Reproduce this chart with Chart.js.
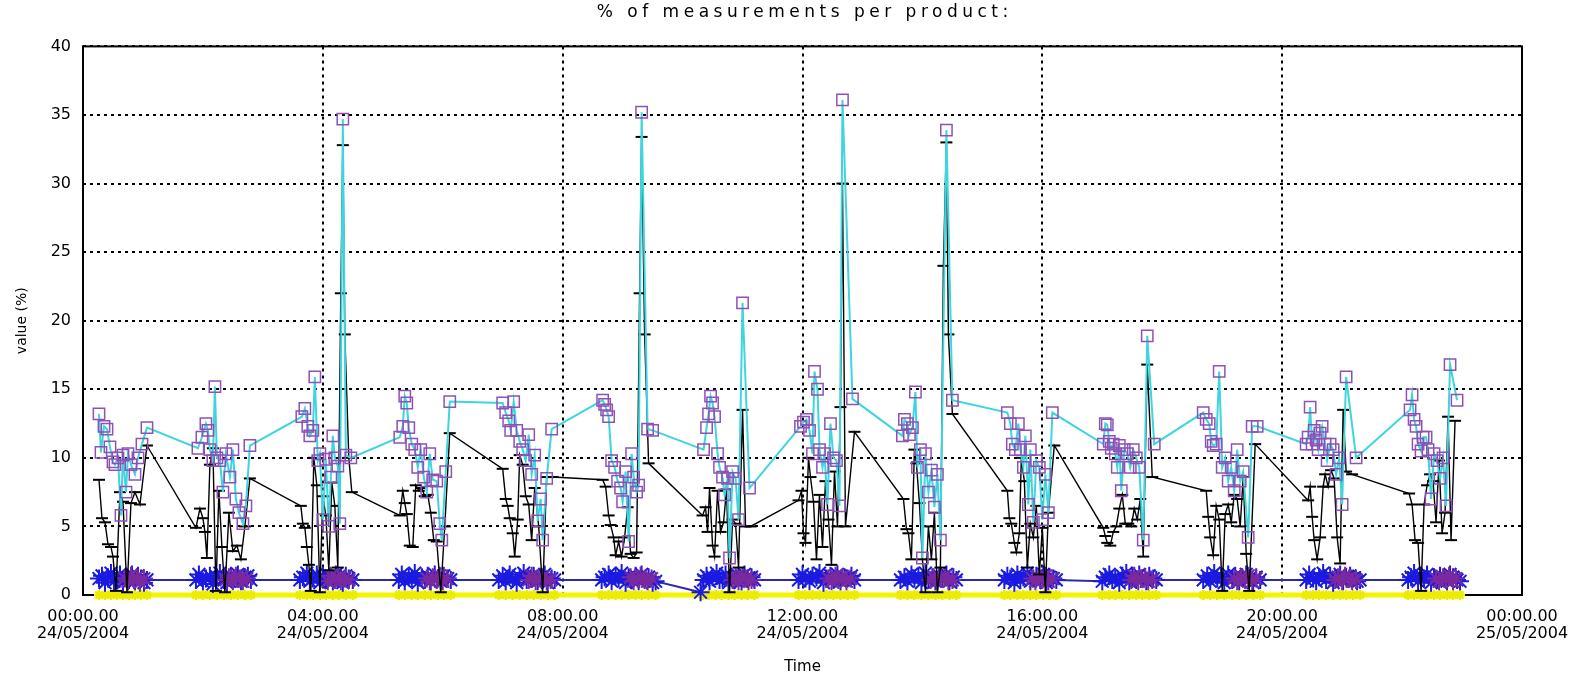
<!DOCTYPE html>
<html><head><meta charset="utf-8">
<script src="https://cdn.jsdelivr.net/npm/chart.js@4/dist/chart.umd.min.js"></script>
<style>html,body{margin:0;padding:0;background:#fff}#wrap{width:1594px;height:676px;position:relative}</style>
</head><body><div id="wrap"><canvas id="c" width="1594" height="676"></canvas></div>
<script>
const TITLE = '% of measurements per product:';
const X_TITLE = 'Time';
const Y_TITLE = 'value (%)';
const xTickValues = [0, 240, 480, 720, 960, 1200, 1440];
const xTickLabels = [['00:00.00','24/05/2004'],['04:00.00','24/05/2004'],['08:00.00','24/05/2004'],['12:00.00','24/05/2004'],['16:00.00','24/05/2004'],['20:00.00','24/05/2004'],['00:00.00','25/05/2004']];
const yTickValues = [0, 5, 10, 15, 20, 25, 30, 35, 40];

// times: minutes after 00:00 24/05/2004
const cyanTime = [
16,18,21,24,27,30,32,35,38,40,43,45,48,52,55,59,64,
115,119,123,125,127,130,132,134,137,140,143,147,150,153,156,160,163,167,
219,222,225,227,230,232,235,237,240,243,246,248,250,252,255,257,260,263,268,
317,320,322,324,326,329,332,335,338,341,344,347,350,354,357,359,363,367,
420,423,426,428,431,434,437,440,443,446,449,452,455,458,460,464,469,
520,522,524,526,529,532,535,538,540,543,546,549,551,554,556,559,565,570,
621,624,626,628,630,632,635,637,640,642,645,647,650,653,656,660,667,
718,721,724,727,730,732,735,737,740,742,745,748,751,754,757,760,770,
820,822,825,827,830,833,835,838,840,843,846,849,852,855,858,864,870,
925,928,930,933,936,938,941,943,946,948,951,954,957,960,963,966,970,
1021,1023,1025,1027,1029,1031,1033,1035,1037,1039,1042,1045,1048,1051,1054,1057,1061,1065,1072,
1121,1124,1127,1129,1131,1134,1137,1140,1143,1146,1149,1152,1155,1158,1161,1166,1170,1175,
1224,1226,1228,1230,1232,1234,1236,1238,1240,1243,1245,1248,1251,1254,1257,1260,1264,1274,
1328,1330,1332,1334,1336,1339,1341,1344,1346,1349,1352,1355,1358,1361,1364,1368,1375];
const cyanValue = [
13.2,10.4,12.3,12.1,10.8,9.7,9.5,10.0,5.8,10.2,7.5,10.3,9.5,8.8,10.0,11.0,12.2,
10.7,11.5,12.5,12.0,10.6,9.8,15.2,10.0,9.8,7.5,10.3,8.6,10.6,7.0,6.0,5.2,6.5,10.9,
13.0,13.6,12.3,11.6,12.0,15.9,9.8,10.3,5.5,9.9,5.0,8.6,11.6,10.0,9.4,5.2,34.7,10.2,10.0,
11.5,12.3,14.5,14.0,12.2,11.0,10.6,9.3,10.6,8.6,7.5,10.3,8.4,8.3,5.2,4.0,9.0,14.1,
14.0,13.3,12.7,12.0,14.1,12.0,11.2,10.6,9.8,11.7,8.8,10.2,5.4,7.0,4.0,8.5,12.1,
14.2,13.9,13.5,13.0,9.8,9.3,8.3,7.8,6.8,9.0,3.9,10.3,8.6,7.5,8.0,35.2,12.1,12.0,
10.6,12.2,13.2,14.5,14.0,13.0,10.3,9.3,8.6,7.3,8.5,2.7,9.0,8.5,5.5,21.3,7.8,
12.3,12.6,12.8,12.0,10.3,16.3,15.0,10.6,9.3,10.3,6.6,12.5,10.0,9.8,6.5,36.1,14.3,
11.6,12.8,12.5,11.7,12.2,14.8,9.3,10.6,2.7,10.3,7.5,9.1,6.4,8.8,4.0,33.9,14.2,
13.3,12.5,11.0,10.6,12.5,10.6,9.3,11.6,6.6,10.6,5.3,9.8,9.3,5.5,8.8,6.0,13.3,
11.0,12.5,12.4,11.2,10.7,11.0,10.3,9.3,10.9,7.6,10.6,10.3,9.3,10.6,10.0,9.3,4.0,18.9,11.0,
13.3,12.8,12.5,11.2,10.9,11.0,16.3,9.3,10.0,8.3,9.3,7.6,10.6,8.3,9.0,4.2,12.3,12.3,
11.0,11.5,13.7,11.0,12.0,11.3,10.6,11.8,12.3,11.0,9.8,11.0,10.6,8.8,10.0,6.6,15.9,10.0,
13.5,14.6,12.8,12.3,11.0,10.5,11.5,11.5,10.6,7.0,10.3,9.8,8.5,10.0,6.5,16.8,14.2];

const blackTime = [
16,19,22,25,28,30,33,37,40,44,48,52,57,64,
113,117,120,122,124,127,130,133,136,139,142,146,150,154,158,162,167,
218,220,222,224,226,228,231,234,237,240,243,246,249,252,255,258,260,262,266,269,
317,320,322,324,327,330,333,336,339,342,345,348,351,354,358,362,367,
420,423,425,427,430,432,435,437,440,443,446,449,452,456,460,464,470,
520,523,526,528,531,533,536,539,542,545,548,551,554,557,559,562,566,
620,623,625,627,630,632,635,638,641,644,647,650,653,656,660,663,668,
716,719,721,723,726,728,731,734,737,740,743,746,749,752,755,758,760,763,772,
821,824,826,829,832,834,837,840,843,846,849,852,855,858,861,864,866,870,
925,927,929,932,934,937,939,942,945,948,951,954,957,960,963,966,972,
1021,1023,1025,1028,1031,1034,1037,1040,1043,1046,1049,1052,1055,1058,1061,1065,1070,
1124,1126,1128,1131,1134,1137,1140,1143,1146,1149,1152,1155,1158,1161,1164,1167,1173,
1226,1228,1230,1232,1235,1238,1241,1243,1246,1249,1252,1255,1258,1261,1264,1270,
1327,1330,1333,1336,1339,1342,1345,1348,1351,1354,1357,1360,1363,1366,1369,1373];
const blackValue = [
8.4,5.6,5.3,3.7,3.5,2.8,0.3,7.5,6.8,0.2,6.7,7.5,6.6,10.9,
4.9,6.3,5.6,4.6,2.7,9.5,10.7,0.3,7.6,3.5,0.2,6.0,3.2,3.6,2.6,5.0,8.5,
6.5,5.2,4.9,3.5,2.2,0.3,10.0,8.0,0.2,7.2,5.8,1.8,8.2,6.5,2.0,22.0,32.8,19.0,10.0,7.5,
5.8,7.6,6.7,5.9,3.6,3.5,8.0,7.6,7.8,7.2,7.3,6.0,4.0,3.9,0.2,5.0,11.8,
9.2,7.0,6.5,5.6,4.5,2.8,5.5,10.2,9.5,7.2,6.6,4.0,7.8,5.0,0.2,8.6,8.6,
8.4,7.9,5.8,5.1,4.2,2.9,3.9,2.8,4.2,6.4,3.0,2.7,3.1,22.0,33.4,19.0,9.6,
5.8,6.4,4.6,7.8,3.6,2.8,7.6,4.6,5.3,7.7,0.2,5.5,5.2,2.0,13.5,5.0,5.0,
6.9,7.6,4.5,3.8,10.0,8.6,6.8,2.6,7.3,3.5,8.3,5.5,2.2,9.0,5.0,13.7,30.0,5.0,11.9,
7.0,4.8,4.5,2.6,10.6,9.6,6.7,2.6,0.2,5.0,2.6,6.0,0.2,2.0,24.0,33.0,19.0,13.2,
7.6,5.6,5.2,3.8,3.1,4.5,10.0,8.3,2.0,5.2,4.2,6.5,1.5,4.9,0.2,6.0,10.9,
4.9,4.3,3.8,3.6,4.6,5.0,6.3,7.3,5.2,5.2,5.0,6.3,5.5,7.0,2.8,16.8,8.6,
7.6,5.7,4.2,2.9,6.5,5.5,0.3,5.9,6.6,5.3,7.3,7.0,5.0,8.6,3.0,0.3,11.0,
6.9,7.9,5.7,4.0,2.6,4.2,7.9,8.8,7.9,9.1,8.5,4.2,2.3,13.5,9.0,8.8,
7.4,6.6,4.0,3.8,0.3,6.6,8.0,8.8,8.3,5.3,9.8,4.5,6.0,13.0,4.0,12.7];

const blueTime = [
16,19,22,25,28,31,34,37,40,43,46,49,52,55,58,61,64,
113,116,120,123,127,130,134,137,141,144,148,151,155,158,162,165,168,
217,220,224,227,230,234,237,240,243,247,250,253,256,260,263,266,270,
316,319,322,326,329,332,335,339,342,345,348,352,355,358,361,365,368,
416,420,423,427,430,434,437,441,444,448,451,455,458,462,465,469,472,
519,522,526,529,533,536,539,543,546,549,553,556,559,563,566,570,573,
618,
621,624,627,630,634,637,640,643,646,649,652,656,659,662,665,669,672,
716,720,723,727,730,734,737,741,744,748,751,755,758,762,765,769,772,
818,822,825,829,832,836,839,843,846,850,853,857,860,864,867,871,874,
922,925,928,932,935,938,941,945,948,951,954,958,961,964,967,971,974,
1020,1023,1027,1030,1033,1037,1040,1044,1047,1050,1054,1057,1060,1064,1067,1071,1074,
1121,1125,1128,1132,1135,1139,1142,1146,1150,1153,1157,1160,1164,1167,1171,1174,1178,
1224,1227,1231,1234,1237,1241,1244,1248,1251,1254,1258,1261,1264,1268,1271,1275,1278,
1326,1329,1332,1336,1339,1342,1345,1349,1352,1355,1358,1362,1365,1368,1371,1375,1378];
const blueValue = [
1.2,1.4,0.9,1.3,1.6,1.0,1.2,1.5,0.9,1.3,1.1,1.5,1.0,1.4,1.2,0.9,1.1,
1.1,1.5,1.0,1.2,1.4,0.8,1.3,1.6,1.1,0.9,1.4,1.2,1.5,1.0,1.3,1.4,1.1,
1.1,1.3,1.6,1.0,1.2,1.5,0.9,1.4,1.1,1.3,1.0,1.5,1.2,0.9,1.4,1.2,1.1,
1.1,1.5,1.0,1.3,1.2,1.6,0.9,1.3,1.1,1.4,1.0,1.5,1.2,1.0,1.4,1.2,1.1,
1.1,1.4,1.0,1.5,1.2,0.9,1.3,1.6,1.1,1.2,1.4,1.0,1.3,1.5,0.9,1.2,1.1,
1.1,1.3,1.5,1.0,1.4,1.2,1.6,0.9,1.3,1.1,1.4,1.0,1.5,1.2,1.3,0.9,1.0,
0.2,
1.1,1.4,1.0,1.3,1.6,1.1,1.2,1.5,0.9,1.3,1.1,1.4,1.0,1.5,1.2,1.3,1.1,
1.1,1.5,1.2,1.0,1.4,1.3,1.6,0.9,1.2,1.4,1.1,1.5,1.0,1.3,1.2,1.4,1.1,
1.1,1.3,1.0,1.5,1.2,1.4,0.9,1.6,1.1,1.3,1.0,1.4,1.2,1.5,1.0,1.3,1.1,
1.1,1.4,1.2,0.9,1.5,1.1,1.3,1.6,1.0,1.2,1.4,1.1,1.5,0.9,1.3,1.2,1.1,
1.0,1.3,1.5,1.1,1.2,0.9,1.4,1.6,1.0,1.3,1.1,1.5,1.2,1.0,1.4,1.2,1.1,
1.1,1.4,1.0,1.6,1.2,1.3,0.9,1.5,1.1,1.4,1.0,1.3,1.5,1.2,0.9,1.3,1.1,
1.1,1.5,1.2,1.0,1.3,1.6,1.1,1.4,0.9,1.2,1.5,1.0,1.3,1.4,1.2,1.0,1.1,
1.1,1.3,1.6,1.0,1.4,1.2,1.5,0.9,1.3,1.1,1.4,1.2,1.0,1.5,1.3,1.1,1.0];

const purpleTime = [
42,45,48,51,54,57,61, 143,146,150,153,157,160,164, 245,248,252,255,258,262,266,
344,347,350,354,357,360,364, 446,449,453,456,460,464,468, 548,551,555,558,562,565,569,
650,653,656,660,663,666,669, 746,749,753,756,760,764,768, 848,851,855,858,862,866,870,
950,953,956,960,963,966,970, 1049,1052,1056,1059,1063,1066,1070, 1152,1155,1159,1163,1166,1170,1174,
1253,1256,1260,1263,1267,1270,1274, 1354,1357,1361,1364,1367,1371,1374];
const purpleValue = [
1.2,1.0,1.4,1.1,1.3,0.9,1.2, 1.1,1.3,1.0,1.4,1.2,1.0,1.2, 1.0,1.4,1.1,1.3,1.0,1.2,1.1,
1.2,1.0,1.3,1.1,1.4,1.0,1.2, 1.1,1.4,1.0,1.2,1.3,1.0,1.1, 1.3,1.0,1.2,1.4,1.1,1.0,1.2,
1.1,1.3,1.0,1.4,1.2,1.0,1.1, 1.2,1.0,1.4,1.1,1.3,1.0,1.2, 1.1,1.3,1.0,1.2,1.4,1.0,1.1,
1.2,1.0,1.3,1.1,1.4,1.0,1.2, 1.1,1.4,1.0,1.2,1.3,1.0,1.1, 1.2,1.0,1.3,1.1,1.4,1.0,1.2,
1.1,1.3,1.0,1.4,1.2,1.0,1.1, 1.2,1.0,1.3,1.1,1.4,1.0,1.2];

const yellowTime = [
16,22,28,34,40,46,52,58,64,
113,120,127,134,141,148,155,162,168,
217,224,230,237,243,250,256,263,270,
316,322,329,335,342,348,355,361,368,
416,423,430,437,444,451,458,465,472,
519,526,533,539,546,553,559,566,573,
620,626,633,639,646,652,659,665,672,
716,723,730,737,744,751,758,765,772,
818,825,832,839,846,853,860,867,874,
922,928,935,941,948,954,961,967,974,
1020,1027,1033,1040,1047,1054,1060,1067,1074,
1121,1128,1135,1142,1150,1157,1164,1171,1178,
1224,1231,1237,1244,1251,1258,1264,1271,1278,
1326,1332,1339,1345,1352,1358,1365,1371,1378];
const yellowValue = [
0,0,0,0,0,0,0,0,0, 0,0,0,0,0,0,0,0,0, 0,0,0,0,0,0,0,0,0, 0,0,0,0,0,0,0,0,0,
0,0,0,0,0,0,0,0,0, 0,0,0,0,0,0,0,0,0, 0,0,0,0,0,0,0,0,0, 0,0,0,0,0,0,0,0,0,
0,0,0,0,0,0,0,0,0, 0,0,0,0,0,0,0,0,0, 0,0,0,0,0,0,0,0,0, 0,0,0,0,0,0,0,0,0,
0,0,0,0,0,0,0,0,0, 0,0,0,0,0,0,0,0,0];

const pts = (t, v) => t.map((x, i) => ({x: x, y: v[i]}));
const FONT = 'DejaVu Sans, Liberation Sans, sans-serif';
const TITLE_SPACING = 4.5;

const framePlugin = {
  id: 'frame',
  beforeDatasetsDraw(chart) {
    const {ctx, chartArea: a} = chart;
    ctx.save();
    ctx.strokeStyle = '#000';
    ctx.lineWidth = 2;
    ctx.setLineDash([]);
    ctx.strokeRect(a.left, a.top, a.right - a.left, a.bottom - a.top);
    ctx.restore();
  }
};

const chart = new Chart(document.getElementById('c'), {
  type: 'line',
  data: {
    datasets: [
      { label: 'cyan', data: pts(cyanTime, cyanValue), order: 0,
        borderColor: '#3fd5df', borderWidth: 2, tension: 0,
        pointStyle: 'rect', pointRadius: 8, pointBorderWidth: 1.5,
        pointBorderColor: '#8c52b8', pointBackgroundColor: 'rgba(0,0,0,0)' },
      { label: 'black', data: pts(blackTime, blackValue), order: 1,
        borderColor: '#000', borderWidth: 1.4, tension: 0,
        pointStyle: 'line', pointRadius: 6, pointBorderWidth: 2,
        pointBorderColor: '#000', pointBackgroundColor: '#000', clip: false },
      { label: 'purple', data: pts(purpleTime, purpleValue), order: 2, showLine: false,
        borderColor: '#7a2a9e', pointStyle: 'star', pointRadius: 9, pointBorderWidth: 2,
        pointBorderColor: '#7a2a9e', clip: false },
      { label: 'blue', data: pts(blueTime, blueValue), order: 3,
        borderColor: '#2c2ca8', borderWidth: 2, tension: 0,
        pointStyle: 'star', pointRadius: 9, pointBorderWidth: 2,
        pointBorderColor: '#1a1ae0', clip: false },
      { label: 'yellow', data: pts(yellowTime, yellowValue), order: 4,
        borderColor: '#f4f400', borderWidth: 5, tension: 0,
        pointStyle: 'star', pointRadius: 5, pointBorderWidth: 2.5,
        pointBorderColor: '#ecec00', clip: false }
    ]
  },
  options: {
    responsive: false,
    animation: false,
    devicePixelRatio: 1,
    layout: { padding: { left: 0, right: 72, top: 0, bottom: 0 } },
    plugins: {
      legend: { display: false },
      tooltip: { enabled: false },
      title: { display: true, text: TITLE, color: '#000',
        font: { family: FONT, size: 17, weight: 'normal' },
        padding: { top: 2, bottom: 24 } }
    },
    scales: {
      x: {
        type: 'linear', min: 0, max: 1440,
        afterBuildTicks: ax => { ax.ticks = xTickValues.map(v => ({value: v})); },
        afterFit: s => { s.height = 81; },
        ticks: { autoSkip: false, maxRotation: 0, color: '#000', padding: 13,
          font: { family: FONT, size: 16, lineHeight: 1.07 },
          callback: (v, i) => xTickLabels[i] },
        grid: { color: '#000', lineWidth: 2, drawTicks: false },
        border: { display: false, dash: [3, 4] },
        title: { display: true, text: X_TITLE, color: '#000',
          font: { family: FONT, size: 15 }, padding: { top: 0, bottom: 0 } }
      },
      y: {
        type: 'linear', min: 0, max: 40,
        afterBuildTicks: ax => { ax.ticks = yTickValues.map(v => ({value: v})); },
        afterFit: s => { s.width = 83; },
        ticks: { color: '#000', padding: 12, font: { family: FONT, size: 16 },
          callback: v => String(v) },
        grid: { color: '#000', lineWidth: 2, drawTicks: false },
        border: { display: false, dash: [3, 4] },
        title: { display: true, text: Y_TITLE, color: '#000',
          font: { family: FONT, size: 14 }, padding: { top: 14, bottom: 0 } }
      }
    }
  },
  plugins: [framePlugin]
});

// the original title is letter-spaced and centred over the plot area
if (chart.titleBlock) {
  const tb = chart.titleBlock;
  const origDraw = tb.draw.bind(tb);
  tb.draw = function () {
    const c = chart.ctx;
    const a = chart.chartArea;
    c.save();
    const shift = (a.left + a.right) / 2 - (tb.left + tb.right) / 2 + TITLE_SPACING / 2;
    c.translate(shift, 0);
    if ('letterSpacing' in c) c.letterSpacing = TITLE_SPACING + 'px';
    origDraw();
    c.restore();
  };
  chart.draw();
}
</script>
</body></html>
